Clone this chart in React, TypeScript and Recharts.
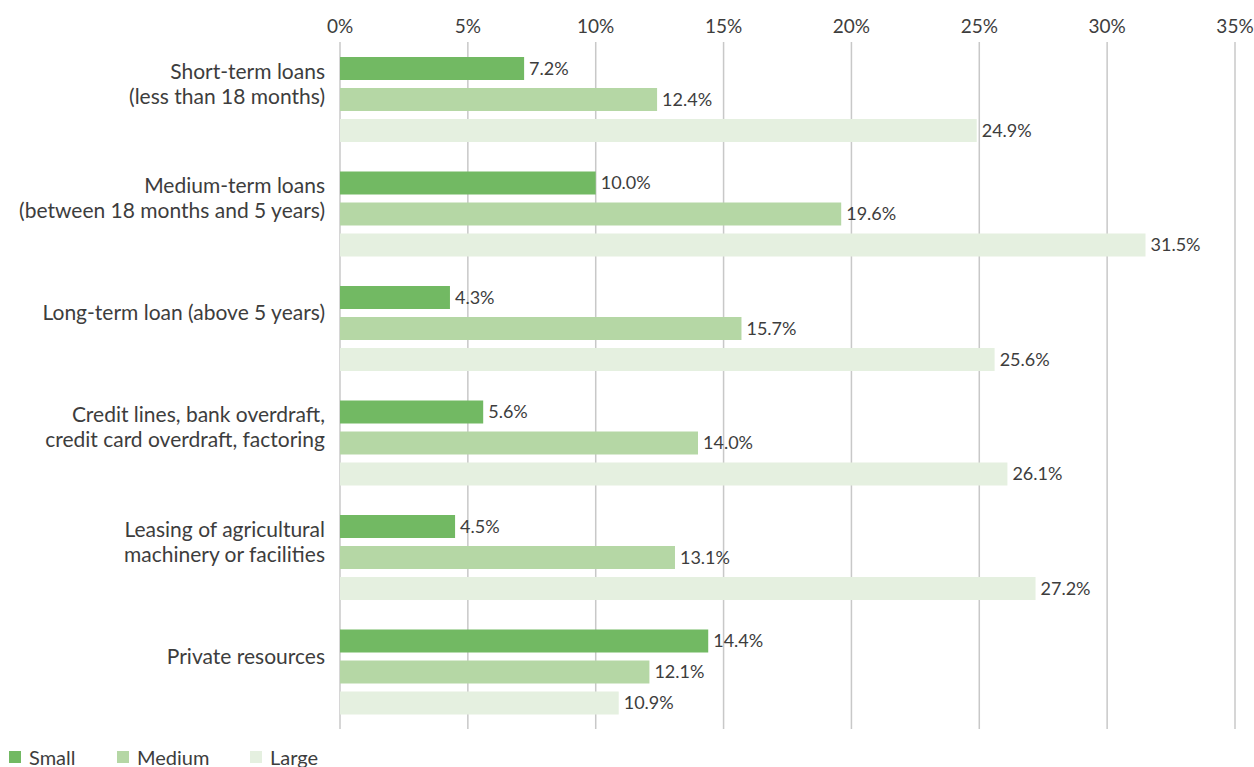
import React from 'react';
import {
  BarChart,
  Bar,
  XAxis,
  YAxis,
  CartesianGrid,
  Legend,
  LabelList,
} from 'recharts';

const categories = [
  'Short-term loans\n(less than 18 months)',
  'Medium-term loans\n(between 18 months and 5 years)',
  'Long-term loan (above 5 years)',
  'Credit lines, bank overdraft,\ncredit card overdraft, factoring',
  'Leasing of agricultural\nmachinery or facilities',
  'Private resources',
];

const small = [7.2, 10.0, 4.3, 5.6, 4.5, 14.4];
const medium = [12.4, 19.6, 15.7, 14.0, 13.1, 12.1];
const large = [24.9, 31.5, 25.6, 26.1, 27.2, 10.9];

const xTicks = [0, 5, 10, 15, 20, 25, 30, 35];

const series = [
  { key: 'Small', color: '#72b963' },
  { key: 'Medium', color: '#b5d7a5' },
  { key: 'Large', color: '#e5f0e0' },
];

const data = categories.map((name, i) => ({
  name,
  Small: small[i],
  Medium: medium[i],
  Large: large[i],
}));

const FONT = 'Lato, "Open Sans", sans-serif';
const TEXT = '#3d3d3d';

function CategoryTick({ x, y, payload }: any) {
  const lines = String(payload.value).split('\n');
  const lh = 25;
  const first = y - 8 - ((lines.length - 1) * lh) / 2;
  return (
    <text x={x} y={first} textAnchor="end" fill={TEXT} fontSize={21} fontFamily={FONT}>
      {lines.map((l, i) => (
        <tspan key={i} x={x} y={first + i * lh}>
          {l}
        </tspan>
      ))}
    </text>
  );
}

function LegendContent() {
  return (
    <div style={{ display: 'flex', height: 22, fontFamily: FONT, fontSize: 20, color: TEXT }}>
      {series.map((s, i) => (
        <div
          key={s.key}
          style={{
            display: 'flex',
            alignItems: 'center',
            width: i === 0 ? 108 : 133,
            paddingLeft: 9,
            boxSizing: 'border-box',
          }}
        >
          <span
            style={{ width: 12, height: 12, background: s.color, marginRight: 8, display: 'inline-block' }}
          />
          <span>{s.key}</span>
        </div>
      ))}
    </div>
  );
}

export default function App() {
  return (
    <div style={{ position: 'absolute', left: 0, top: 0, width: 1254, height: 767, background: '#fff' }}>
      <BarChart
        width={1254}
        height={767}
        data={data}
        layout="vertical"
        margin={{ top: 0, right: 19, bottom: 16, left: 0 }}
        barSize={23}
        barGap={8}
      >
        <CartesianGrid horizontal={false} stroke="#c8c8c8" strokeWidth={1.5} />
        <XAxis
          type="number"
          orientation="top"
          domain={[0, 35]}
          ticks={xTicks}
          tickFormatter={(v) => `${v}%`}
          axisLine={false}
          tickLine={false}
          tickSize={0}
          tickMargin={9}
          height={42}
          tick={{ fill: TEXT, fontSize: 19, fontFamily: FONT }}
        />
        <YAxis
          type="category"
          dataKey="name"
          width={340}
          axisLine={false}
          tickLine={false}
          tickSize={0}
          tickMargin={15}
          tick={<CategoryTick />}
          interval={0}
        />
        <Legend
          verticalAlign="bottom"
          content={<LegendContent />}
          wrapperStyle={{ height: 22, left: 0, bottom: -1, width: 500 }}
        />
        {series.map(({ key, color }) => (
          <Bar key={key} dataKey={key} fill={color} isAnimationActive={false}>
            <LabelList
              dataKey={key}
              position="right"
              offset={5}
              formatter={(v: any) => `${Number(v).toFixed(1)}%`}
              fill={TEXT}
              fontSize={18}
              fontFamily={FONT}
            />
          </Bar>
        ))}
      </BarChart>
    </div>
  );
}
